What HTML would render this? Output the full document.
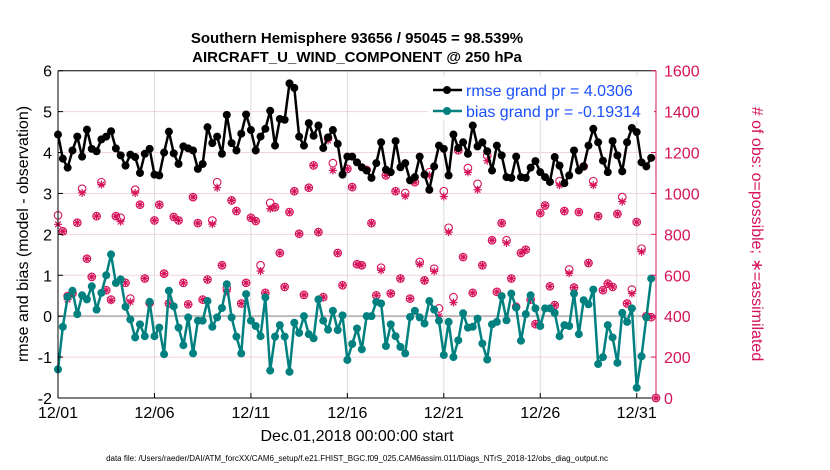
<!DOCTYPE html>
<html><head><meta charset="utf-8"><style>
body{margin:0;background:#fff;}
svg{display:block;font-family:"Liberation Sans",sans-serif;}
</style></head><body>
<svg id="chart" width="830" height="470" viewBox="0 0 830 470">
<text x="357" y="43" text-anchor="middle" font-size="15" font-weight="bold">Southern Hemisphere 93656 / 95045 = 98.539%</text>
<text x="357" y="62" text-anchor="middle" font-size="15" font-weight="bold">AIRCRAFT_U_WIND_COMPONENT @ 250 hPa</text>
<g id="grid"></g>
<g id="marks"></g>
<g id="axes"></g>
<text transform="translate(28,234) rotate(-90)" text-anchor="middle" font-size="16">rmse and bias (model - observation)</text>
<text transform="translate(752,234) rotate(90)" text-anchor="middle" font-size="16" fill="#d6125a"># of obs: o=possible; ∗=assimilated</text>
<text x="357" y="441" text-anchor="middle" font-size="16">Dec.01,2018 00:00:00 start</text>
<text x="357" y="461" text-anchor="middle" font-size="8">data file: /Users/raeder/DAI/ATM_forcXX/CAM6_setup/f.e21.FHIST_BGC.f09_025.CAM6assim.011/Diags_NTrS_2018-12/obs_diag_output.nc</text>
<g>
<rect x="428" y="76" width="226" height="44" fill="#fff"/>
<line x1="433" y1="90" x2="462" y2="90" stroke="#000" stroke-width="2.5"/>
<circle cx="447" cy="90" r="4" fill="#000"/>
<text x="466" y="96" font-size="16" fill="#1a4fff">rmse grand pr = 4.0306</text>
<line x1="433" y1="111" x2="462" y2="111" stroke="#00807f" stroke-width="2.5"/>
<circle cx="447" cy="111" r="4" fill="#00807f"/>
<text x="466" y="117" font-size="16" fill="#1a4fff">bias grand pr = -0.19314</text>
</g>
</svg>
<script>
const xTickLabels=["12/01","12/06","12/11","12/16","12/21","12/26","12/31"];
const xTickDays=[0,5,10,15,20,25,30];
const yTicksLeft=[-2,-1,0,1,2,3,4,5,6];
const yTicksRight=[0,200,400,600,800,1000,1200,1400,1600];
const rmse=[4.44,3.85,3.63,4.05,4.39,3.9,4.56,4.09,4.03,4.32,4.39,4.52,4.1,3.93,3.68,3.95,3.89,3.5,3.97,4.09,3.46,3.44,4.0,4.51,3.98,3.72,4.15,4.1,4.05,3.6,3.72,4.62,
4.23,4.39,3.97,4.92,4.23,4.05,4.46,4.93,4.55,4.05,4.39,4.58,5.02,4.17,4.82,4.8,5.69,5.58,4.39,4.17,4.72,4.41,4.66,4.11,4.37,4.55,4.21,3.46,3.9,3.9,3.76,
3.64,3.56,3.38,3.74,4.25,3.58,3.52,4.28,3.64,3.74,3.32,3.4,3.9,3.46,3.09,3.66,4.17,4.09,3.44,4.44,4.11,4.25,3.97,4.66,4.15,4.25,4.03,3.56,4.17,3.93,3.4,
3.38,3.9,3.4,3.38,3.63,3.79,3.52,3.4,3.28,3.89,3.68,3.25,3.44,4.05,3.56,3.66,4.17,4.58,4.25,3.8,3.52,4.28,3.93,3.54,4.25,4.6,4.5,3.76,3.66,3.87];
const bias=[-1.3,-0.26,0.47,0.62,0.05,0.51,0.41,0.73,0.16,0.57,1.0,1.51,0.81,0.9,0.23,-0.08,-0.52,-0.2,-0.49,0.35,-0.49,-0.28,-0.93,0.62,0.24,-0.28,-0.71,-0.03,-0.91,-0.11,-0.11,0.37,
-0.26,-0.03,0.2,0.78,-0.03,-0.5,-0.91,0.54,-0.11,-0.24,-0.49,0.46,-1.33,-0.5,-0.22,-0.5,-1.36,-0.16,-0.41,0,-0.44,-0.54,0.41,-0.11,-0.33,0.13,-0.34,0.02,-1.07,-0.68,-0.3,
-0.81,0,0,0.35,0.31,-0.73,-0.2,-0.49,-0.75,-0.91,-0.02,0.13,-0.03,-0.18,0.37,0.16,-0.11,-0.95,-0.14,-1.0,-0.59,0.07,-0.28,-0.26,-0.06,-0.67,-1.06,-0.2,-0.14,0.49,-0.1,
0.55,0.21,-0.6,0.05,0.51,0.19,-0.24,0.19,0.19,0.08,-0.49,-0.22,-0.24,0.55,-0.44,0.39,0.29,0.65,-1.17,-1.0,-0.22,-0.52,-1.14,0.08,-0.14,0.19,-1.75,-0.98,-0.03,0.92];
const obsPossible=[893,815,498,511,857,1023,681,592,889,1055,527,481,889,881,563,486,1018,945,584,465,868,945,608,462,885,868,563,458,982,855,481,579,
868,1055,649,535,966,914,462,563,881,865,649,514,954,933,709,543,909,1011,803,504,1028,1137,811,493,1272,1148,709,551,1120,1031,654,
649,1115,855,502,637,1088,511,1011,584,1002,486,1055,665,575,1104,632,438,1011,832,493,1211,689,1124,514,1047,649,1185,771,519,855,771,
584,446,709,725,481,361,904,941,546,454,1060,914,628,540,909,1132,660,1060,889,527,559,543,900,982,462,530,860,730,400,395,0];
const obsAssim=[849,815,481,511,857,1003,681,592,889,1043,527,478,889,862,563,470,1002,945,584,465,868,945,608,462,885,868,563,458,982,855,481,579,
850,1028,649,520,966,914,462,563,881,865,621,514,925,933,709,543,909,1011,803,504,1028,1137,811,493,1259,1112,709,551,1120,1031,654,
649,1115,855,502,624,1088,511,1011,584,987,486,1055,654,575,1088,619,400,985,811,467,1211,689,1103,514,1018,649,1160,771,519,855,758,
584,446,709,725,481,361,904,941,546,454,1040,914,610,540,909,1132,660,1040,889,527,559,543,900,960,462,510,860,715,400,395,0];

const X0=58,X1=656,Y0=398,Y1=70.7;
const sx=d=>X0+(d/31)*(X1-X0);
const sy=v=>Y0-(v+2)/8*(Y0-Y1);
const sr=c=>Y0-c/1600*(Y0-Y1);
const NS="http://www.w3.org/2000/svg";
function mk(tag,attrs,parent){const e=document.createElementNS(NS,tag);for(const k in attrs)e.setAttribute(k,attrs[k]);parent.appendChild(e);return e;}
const grid=document.getElementById('grid'),marks=document.getElementById('marks'),axes=document.getElementById('axes');

yTicksLeft.forEach(v=>{if(v===-2||v===6)return;const g=mk('line',{x1:X0,x2:X1,y1:sy(v),y2:sy(v),stroke:v===0?'#c0b8bc':'#f2d3de','stroke-width':v===0?2:1},grid);

});
xTickDays.forEach(d=>{if(d===0)return;const g=mk('line',{x1:sx(d),x2:sx(d),y1:Y1,y2:Y0,stroke:'#dcdcdc','stroke-width':1},grid);

});

// obs
function star(cx,cy,s,parent){let d='';for(let a=0;a<4;a++){const t=a*Math.PI/4;d+=`M${cx-s*Math.cos(t)} ${cy-s*Math.sin(t)}L${cx+s*Math.cos(t)} ${cy+s*Math.sin(t)}`;}return mk('path',{d:d,stroke:'#d6125a','stroke-width':1.2,fill:'none'},parent);}
obsPossible.forEach((c,i)=>{const e=mk('circle',{cx:sx(i*0.25),cy:sr(c),r:3.8,fill:'none',stroke:'#d6125a','stroke-width':1.1},marks);

});
obsAssim.forEach((c,i)=>{const e=star(sx(i*0.25),sr(c),4,marks);

});

function series(vals,color,name){
 const pts=vals.map((v,i)=>sx(i*0.25)+','+sy(v)).join(' ');
 const l=mk('polyline',{points:pts,fill:'none',stroke:color,'stroke-width':2.5,'stroke-linejoin':'round'},marks);
 
 
 vals.forEach((v,i)=>{const c=mk('circle',{cx:sx(i*0.25),cy:sy(v),r:4,fill:color},marks);
 
 });
}
series(bias,'#00807f','bias');
series(rmse,'#000','rmse');

// axes
mk('line',{x1:X0,x2:X0,y1:Y1,y2:Y0,stroke:'#000','stroke-width':1},axes);
mk('line',{x1:X0,x2:X1,y1:Y1,y2:Y1,stroke:'#000','stroke-width':1},axes);
mk('line',{x1:X0,x2:X1,y1:Y0,y2:Y0,stroke:'#000','stroke-width':1},axes);
mk('line',{x1:X1,x2:X1,y1:Y1,y2:Y0,stroke:'#d6125a','stroke-width':1},axes);
yTicksLeft.forEach(v=>{mk('line',{x1:X0,x2:X0+5,y1:sy(v),y2:sy(v),stroke:'#000'},axes);
const t=mk('text',{x:X0-6,y:sy(v)+6,'text-anchor':'end','font-size':16},axes);t.textContent=v;

});
yTicksRight.forEach(c=>{mk('line',{x1:X1-5,x2:X1,y1:sr(c),y2:sr(c),stroke:'#d6125a'},axes);
const t=mk('text',{x:X1+8,y:sr(c)+6,'font-size':16,fill:'#d6125a'},axes);t.textContent=c;

});
xTickDays.forEach((d,i)=>{mk('line',{x1:sx(d),x2:sx(d),y1:Y0,y2:Y0-5,stroke:'#000'},axes);
const t=mk('text',{x:sx(d),y:Y0+20,'text-anchor':'middle','font-size':16},axes);t.textContent=xTickLabels[i];

});
</script>
</body></html>
